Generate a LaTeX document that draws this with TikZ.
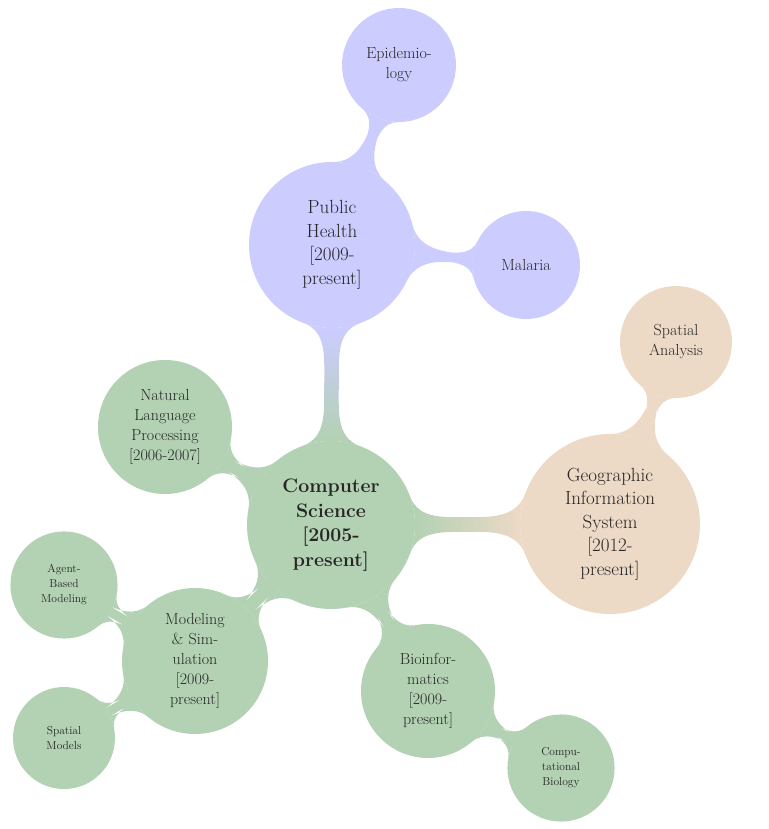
\documentclass[tikz,border=0pt]{standalone}
\usetikzlibrary{mindmap,backgrounds}
\definecolor{csgreen}{RGB}{179,209,179}
\definecolor{phblue}{RGB}{204,204,255}
\definecolor{gistan}{RGB}{236,217,198}
\tikzset{
  bubble/.style={circle, fill=#1, align=center, inner sep=0pt, text=black!85},
  big/.style={font=\fontsize{19}{23.5}\selectfont},
  mid/.style={font=\fontsize{16}{20}\selectfont},
  tiny/.style={font=\fontsize{11.5}{15}\selectfont},
}
\begin{document}
\begin{tikzpicture}[x=1pt, y=-1pt, mindmap]
  \useasboundingbox (0,0) rectangle (768,829);
  % bubbles
  \node[bubble=csgreen, minimum size=168pt, font=\fontsize{19.5}{24.5}\selectfont\bfseries] (cs) at (331,525) {Computer\\Science\\{[2005-present]}};
  \node[bubble=phblue, minimum size=166pt, big] (ph) at (332,245) {Public Health\\{[2009-present]}};
  \node[bubble=phblue, minimum size=114pt, mid] (epi) at (399,65) {Epidemio-\\logy};
  \node[bubble=phblue, minimum size=108pt, mid] (mal) at (526,265) {Malaria};
  \node[bubble=gistan, minimum size=180pt, big] (gis) at (610,524) {Geographic\\Information\\System\\{[2012-present]}};
  \node[bubble=gistan, minimum size=112pt, mid] (sa) at (676,342) {Spatial\\Analysis};
  \node[bubble=csgreen, minimum size=134pt, mid] (nlp) at (165,427) {Natural\\Language\\Processing\\{[2006-2007]}};
  \node[bubble=csgreen, minimum size=146pt, mid] (ms) at (195,661) {Modeling\\\& Sim-\\ulation\\{[2009-}\\present]};
  \node[bubble=csgreen, minimum size=96pt, tiny] (abm) at (64,585) {Agent-\\Based\\Modeling};
  \node[bubble=csgreen, minimum size=90pt, tiny] (sm) at (64,738) {Spatial\\Models};
  \node[bubble=csgreen, minimum size=134pt, mid] (bio) at (428,691) {Bioinfor-\\matics\\{[2009-}\\present]};
  \node[bubble=csgreen, minimum size=96pt, tiny] (cb) at (561,768) {Compu-\\tational\\Biology};
  % connections
  \begin{scope}[on background layer]
  \path (cs) to[circle connection bar switch color=from (csgreen) to (phblue)] (ph);
  \path (ph) to[circle connection bar switch color=from (phblue) to (phblue)] (epi);
  \path (ph) to[circle connection bar switch color=from (phblue) to (phblue)] (mal);
  \path (cs) to[circle connection bar switch color=from (csgreen) to (gistan)] (gis);
  \path (gis) to[circle connection bar switch color=from (gistan) to (gistan)] (sa);
  \path (cs) to[circle connection bar switch color=from (csgreen) to (csgreen)] (nlp);
  \path (cs) to[circle connection bar switch color=from (csgreen) to (csgreen)] (ms);
  \path (ms) to[circle connection bar switch color=from (csgreen) to (csgreen)] (abm);
  \path (ms) to[circle connection bar switch color=from (csgreen) to (csgreen)] (sm);
  \path (cs) to[circle connection bar switch color=from (csgreen) to (csgreen)] (bio);
  \path (bio) to[circle connection bar switch color=from (csgreen) to (csgreen)] (cb);
  \end{scope}
\end{tikzpicture}
\end{document}
